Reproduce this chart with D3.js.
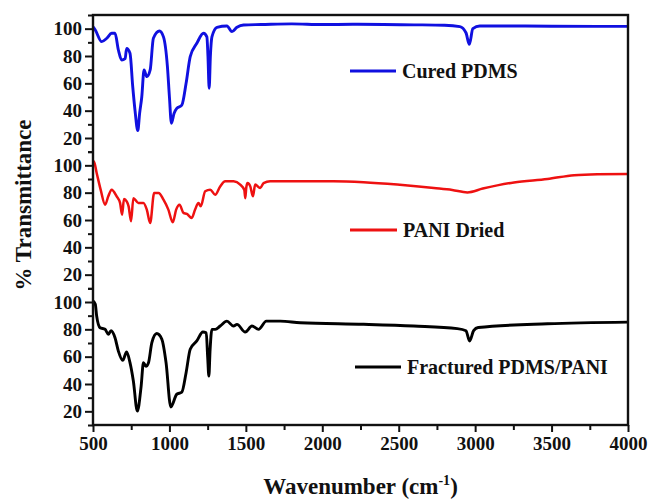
<!DOCTYPE html>
<html>
<head>
<meta charset="utf-8">
<script src="https://cdn.jsdelivr.net/npm/d3@7"></script>
<style>
  body { margin: 0; background: #fff; }
  text { font-family: "Liberation Serif", "Times New Roman", serif; font-weight: bold; fill: #111; }
</style>
</head>
<body>
<div id="chart"></div>
<script>
// Series names and colours
const seriesNames = ["Cured PDMS", "PANI Dried", "Fractured PDMS/PANI"];
const seriesColors = ["#1010e0", "#ee1111", "#000000"];

// Cured PDMS (top panel)
const pdmsWn = [500,515,557,590,622,644,666,688,710,720,742,760,775,793,805,819,834,852,874,895,935,961,987,1000,1013,1030,1048,1081,1109,1136,1179,1223,1245,1252,1260,1268,1278,1311,1376,1409,1442,1485,1600,1800,2000,2200,2400,2600,2800,2900,2940,2962,2985,3030,3200,3500,3800,4000];
const pdmsT = [101.4,99,90.5,93,96.6,96.6,84.4,77,78,85.6,82,57.5,40,25.4,38,50,69.8,64.9,69.8,93,98.3,94,72,50,30.8,38,41.7,44,60,79.5,89.3,96.6,94,80,56.4,80,94,101,102,97.8,101,102.7,103,103.5,103,103.2,103,102.8,102.5,101.5,97,88.5,100,102,102,101.8,101.7,101.7];

// PANI Dried (middle panel)
const paniWn = [500,506,524,550,579,600,622,655,677,690,703,720,733,749,764,797,830,852,874,900,929,961,993,1022,1044,1066,1092,1114,1146,1168,1190,1205,1234,1267,1299,1332,1365,1420,1463,1490,1496,1503,1511,1529,1546,1561,1594,1616,1659,1725,2073,2270,2490,2630,2730,2850,2949,3050,3254,3473,3648,3800,4000];
const paniT = [103,102.9,94.4,82.2,71.2,77.3,82.2,77.3,72.5,63.9,75.4,73.7,70,59,76,72.5,72.5,67.6,57.8,79.8,79.8,74.9,67.6,58.3,67.6,71.2,65.2,64.5,61.5,67.6,72.5,70,81,82.2,78.5,84.6,88.3,88.3,85.9,82,76,84,87,84.6,77.3,85.9,83.4,87,88.3,88.3,88.3,87.6,85.9,84.5,83.4,82,80.2,83,87.5,90,92.8,93.5,93.7];

// Fractured PDMS/PANI (bottom panel)
const fracWn = [500,515,524,546,579,600,618,644,666,694,720,742,764,790,815,830,846,863,885,917,950,978,1009,1048,1081,1109,1136,1179,1219,1241,1250,1258,1266,1278,1300,1332,1376,1419,1442,1496,1540,1583,1634,1725,1856,2271,2598,2883,2940,2964,2990,3020,3473,4000];
const fracT = [100.7,98.3,89.7,81.2,80,76.4,79,73.9,64.1,57.3,63.4,55.6,42.2,20.2,38.5,55.6,53,55.6,70.3,76.9,72.9,55.6,23.2,32.5,34,48.3,65.4,71.5,78,77.5,60,45.8,65,80,80,82.4,86,82.4,83.6,78,82.4,80,86,86,84.8,83.7,82.4,80.5,79,71.5,79,81.3,84.1,85.3];

const xTicks = [500,1000,1500,2000,2500,3000,3500,4000];
const yTicks = [20,40,60,80,100];

const series = [
  { wn: pdmsWn, t: pdmsT },
  { wn: paniWn, t: paniT },
  { wn: fracWn, t: fracT }
];

const W = 649, H = 500;
const margin = { left: 93, right: 628, top: 15, bottom: 425 };
const panelH = (margin.bottom - margin.top) / 3;

const svg = d3.select("#chart").append("svg")
  .attr("width", W).attr("height", H);

const x = d3.scaleLinear().domain([500, 4000]).range([margin.left, margin.right]);

// one y scale per stacked panel
const yScales = series.map((s, i) =>
  d3.scaleLinear().domain([10, 110])
    .range([margin.top + (i + 1) * panelH, margin.top + i * panelH]));

// legend spots
const legendPos = [
  { x1: 350, x2: 396, y: 71 },
  { x1: 350, x2: 397, y: 230 },
  { x1: 355, x2: 401, y: 367 }
];

series.forEach((s, i) => {
  const y = yScales[i];
  const pts = s.wn.map((w, j) => [w, s.t[j]]);
  const line = d3.line()
    .x(d => x(d[0]))
    .y(d => y(d[1]))
    .curve(d3.curveMonotoneX);
  svg.append("path")
    .datum(pts)
    .attr("fill", "none")
    .attr("stroke", seriesColors[i])
    .attr("stroke-width", i === 1 ? 2.5 : 2.9)
    .attr("stroke-linejoin", "round")
    .attr("d", line);

  // legend
  const lp = legendPos[i];
  svg.append("line")
    .attr("x1", lp.x1).attr("x2", lp.x2)
    .attr("y1", lp.y).attr("y2", lp.y)
    .attr("stroke", seriesColors[i])
    .attr("stroke-width", 2.8);
  svg.append("text")
    .attr("x", lp.x2 + 6).attr("y", lp.y + 7)
    .attr("font-size", 20)
    .text(seriesNames[i]);

  // left axis for the panel
  const axMajor = svg.append("g")
    .attr("transform", `translate(${margin.left},0)`)
    .call(d3.axisLeft(y).tickValues(yTicks).tickSize(8).tickPadding(3).tickFormat(d3.format("d")));
  axMajor.select(".domain").remove();
  axMajor.selectAll("line").attr("stroke", "#111").attr("stroke-width", 2);
  axMajor.selectAll("text").attr("font-size", 19)
    .style("font-family", "'Liberation Serif', serif").style("font-weight", "bold");

  const axMinor = svg.append("g")
    .attr("transform", `translate(${margin.left},0)`)
    .call(d3.axisLeft(y).tickValues([10,30,50,70,90,110]).tickSize(5).tickFormat(""));
  axMinor.select(".domain").remove();
  axMinor.selectAll("line").attr("stroke", "#111").attr("stroke-width", 2);
});

// bottom axis
const xMajor = svg.append("g")
  .attr("transform", `translate(0,${margin.bottom})`)
  .call(d3.axisBottom(x).tickValues(xTicks).tickSize(7).tickPadding(5).tickFormat(d3.format("d")));
xMajor.select(".domain").remove();
xMajor.selectAll("line").attr("stroke", "#111").attr("stroke-width", 2);
xMajor.selectAll("text").attr("font-size", 19)
  .style("font-family", "'Liberation Serif', serif").style("font-weight", "bold");

const xMinor = svg.append("g")
  .attr("transform", `translate(0,${margin.bottom})`)
  .call(d3.axisBottom(x).tickValues([750,1250,1750,2250,2750,3250,3750]).tickSize(5).tickFormat(""));
xMinor.select(".domain").remove();
xMinor.selectAll("line").attr("stroke", "#111").attr("stroke-width", 2);

// frame
svg.append("rect")
  .attr("x", margin.left).attr("y", margin.top)
  .attr("width", margin.right - margin.left).attr("height", margin.bottom - margin.top)
  .attr("fill", "none")
  .attr("stroke", "#111")
  .attr("stroke-width", 2.4);

// axis titles
const xt = svg.append("text")
  .attr("x", (margin.left + margin.right) / 2).attr("y", 494)
  .attr("text-anchor", "middle")
  .attr("font-size", 23);
xt.append("tspan").text("Wavenumber (cm");
xt.append("tspan").attr("font-size", 14).attr("dy", -9).text("-1");
xt.append("tspan").attr("dy", 9).text(")");

svg.append("text")
  .attr("transform", "translate(31,205) rotate(-90)")
  .attr("text-anchor", "middle")
  .attr("font-size", 23)
  .text("% Transmittance");
</script>
</body>
</html>
